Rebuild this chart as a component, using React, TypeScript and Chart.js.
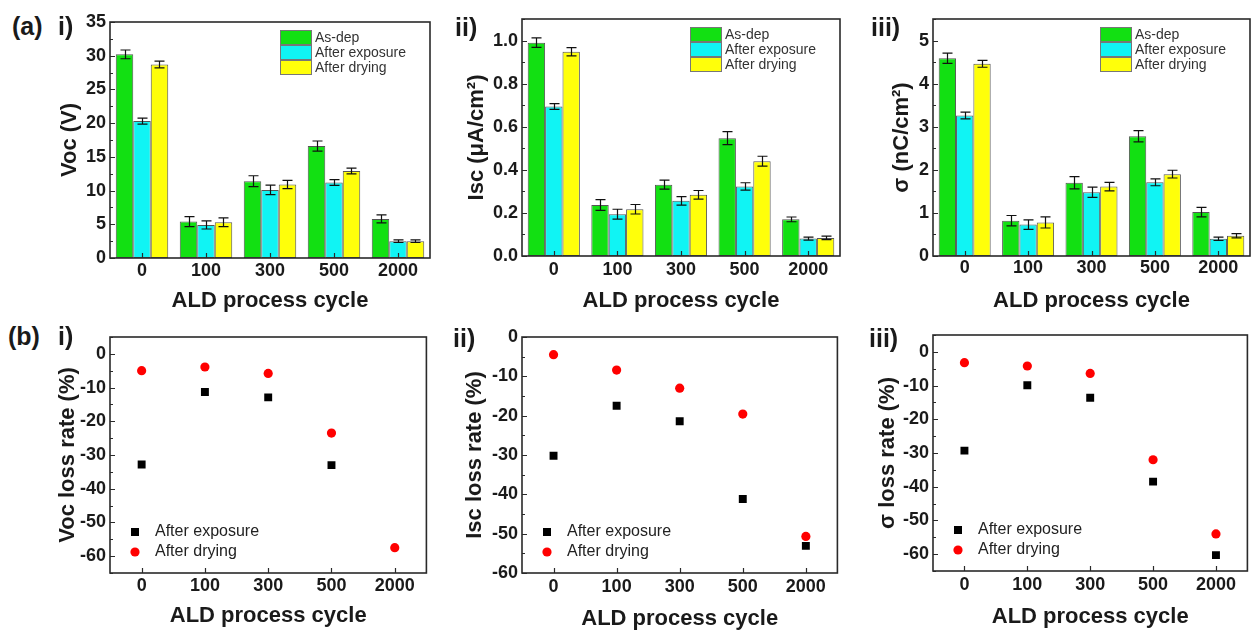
import React, { useEffect, useRef } from 'react';
import { Chart, registerables } from 'chart.js';

Chart.register(...registerables);

// ---------- data ----------
const categories = ['0', '100', '300', '500', '2000'];
const barSeriesLabels = ['As-dep', 'After exposure', 'After drying'];
const lossSeriesLabels = ['After exposure', 'After drying'];

// (a) i) Voc (V)
const vocAsDep = [30.2, 5.4, 11.4, 16.6, 5.8];
const vocExposure = [20.3, 4.9, 10.1, 11.2, 2.5];
const vocDrying = [28.7, 5.3, 10.9, 12.9, 2.5];
const vocAsDepErr = [0.65, 0.75, 0.8, 0.75, 0.6];
const vocExposureErr = [0.45, 0.6, 0.7, 0.42, 0.2];
const vocDryingErr = [0.5, 0.65, 0.6, 0.42, 0.2];

// (a) ii) Isc (uA/cm2)
const iscAsDep = [0.99, 0.237, 0.331, 0.547, 0.17];
const iscExposure = [0.694, 0.194, 0.256, 0.323, 0.081];
const iscDrying = [0.948, 0.217, 0.284, 0.44, 0.084];
const iscAsDepErr = [0.022, 0.025, 0.021, 0.03, 0.011];
const iscExposureErr = [0.013, 0.023, 0.02, 0.017, 0.007];
const iscDryingErr = [0.019, 0.022, 0.02, 0.023, 0.008];

// (a) iii) sigma (nC/cm2)
const sigAsDep = [4.59, 0.82, 1.7, 2.78, 1.02];
const sigExposure = [3.26, 0.73, 1.48, 1.71, 0.4];
const sigDrying = [4.46, 0.78, 1.61, 1.9, 0.47];
const sigAsDepErr = [0.12, 0.12, 0.14, 0.13, 0.11];
const sigExposureErr = [0.08, 0.11, 0.12, 0.08, 0.04];
const sigDryingErr = [0.08, 0.13, 0.1, 0.09, 0.05];

// (b) loss rates (%)  (the 2000-cycle exposure point of Voc is hidden under the red marker)
const vocLossExposure = [-32.8, -11.3, -12.9, -33.0, null];
const vocLossDrying = [-5.0, -3.9, -5.8, -23.5, -57.5];
const iscLossExposure = [-30.2, -17.5, -21.4, -41.2, -53.1];
const iscLossDrying = [-4.5, -8.4, -13.0, -19.6, -50.7];
const sigLossExposure = [-29.3, -9.9, -13.6, -38.5, -60.3];
const sigLossDrying = [-3.2, -4.2, -6.4, -32.0, -54.0];

// tick values
const vocTicks = [0, 5, 10, 15, 20, 25, 30, 35];
const iscTicks = [0, 0.2, 0.4, 0.6, 0.8, 1.0];
const sigTicks = [0, 1, 2, 3, 4, 5];
const lossTicksA = [-60, -50, -40, -30, -20, -10, 0];
const lossTicksB = [-60, -50, -40, -30, -20, -10, 0];

// ---------- style ----------
const FONT = "'Liberation Sans', Arial, Helvetica, sans-serif";
const TEXT = '#1a1a1a';
const GREEN = '#12e012';
const CYAN = '#10f4f4';
const YELLOW = '#ffff0a';

// ---------- plugins ----------
const framePlugin = {
  id: 'frame',
  afterDatasetsDraw(chart: any, _args: any, opts: any) {
    const { ctx, chartArea: a } = chart;
    const y = chart.scales.y;
    const x = chart.scales.x;
    ctx.save();
    ctx.strokeStyle = '#2a2a2a';
    ctx.lineWidth = 1.2;
    ctx.beginPath();
    for (const t of y.ticks) {
      const py = Math.round(y.getPixelForValue(t.value)) + 0.5;
      ctx.moveTo(a.left, py);
      ctx.lineTo(a.left + 5, py);
    }
    const step = opts.minorStep;
    if (step) {
      const majors = y.ticks.map((t: any) => t.value);
      for (let v = Math.ceil(y.min / step) * step; v <= y.max + 1e-9; v += step) {
        if (majors.some((m: number) => Math.abs(m - v) < 1e-6)) continue;
        const py = Math.round(y.getPixelForValue(v)) + 0.5;
        ctx.moveTo(a.left, py);
        ctx.lineTo(a.left + 3, py);
      }
    }
    for (let i = 0; i < x.ticks.length; i++) {
      const px = Math.round(x.getPixelForTick(i)) + 0.5;
      ctx.moveTo(px, a.bottom);
      ctx.lineTo(px, a.bottom - 5);
    }
    ctx.stroke();
    ctx.lineWidth = 1.6;
    ctx.strokeStyle = '#2a2a2a';
    ctx.strokeRect(a.left, a.top, a.right - a.left, a.bottom - a.top);
    ctx.restore();
  },
};

const errorBarPlugin = {
  id: 'errorBars',
  afterDatasetsDraw(chart: any) {
    const { ctx } = chart;
    const y = chart.scales.y;
    ctx.save();
    ctx.strokeStyle = '#111';
    ctx.lineWidth = 1.2;
    chart.data.datasets.forEach((ds: any, di: number) => {
      if (!ds.errors) return;
      const meta = chart.getDatasetMeta(di);
      meta.data.forEach((el: any, i: number) => {
        const v = ds.data[i];
        const e = ds.errors[i];
        const px = Math.round(el.x) + 0.5;
        const yt = y.getPixelForValue(v + e);
        const yb = y.getPixelForValue(v - e);
        ctx.beginPath();
        ctx.moveTo(px, yt);
        ctx.lineTo(px, yb);
        ctx.moveTo(px - 5, yt);
        ctx.lineTo(px + 5, yt);
        ctx.moveTo(px - 5, yb);
        ctx.lineTo(px + 5, yb);
        ctx.stroke();
      });
    });
    ctx.restore();
  },
};

const insideLegendPlugin = {
  id: 'insideLegend',
  afterDraw(chart: any, _args: any, opts: any) {
    const { ctx, chartArea: a } = chart;
    const dsets = chart.data.datasets;
    ctx.save();
    if (opts.kind === 'box') {
      ctx.font = `14px ${FONT}`;
      ctx.textBaseline = 'middle';
      ctx.textAlign = 'left';
      const x0 = a.right - 150;
      dsets.forEach((ds: any, i: number) => {
        const yTop = a.top + 8 + i * 15;
        ctx.fillStyle = ds.backgroundColor;
        ctx.fillRect(x0, yTop, 32, 15);
        ctx.strokeStyle = '#777';
        ctx.lineWidth = 1;
        ctx.strokeRect(x0 + 0.5, yTop + 0.5, 31, 14);
        ctx.fillStyle = '#333';
        ctx.fillText(ds.label, x0 + 35, yTop + 8);
      });
    } else {
      ctx.font = `16px ${FONT}`;
      ctx.textBaseline = 'middle';
      ctx.textAlign = 'left';
      const x0 = a.left + 25;
      dsets.forEach((ds: any, i: number) => {
        const yc = a.bottom - 41 + i * 20;
        ctx.fillStyle = ds.backgroundColor;
        if (ds.pointStyle === 'rect') {
          ctx.fillRect(x0 - 4, yc - 4, 8, 8);
        } else {
          ctx.beginPath();
          ctx.arc(x0, yc, 4.6, 0, Math.PI * 2);
          ctx.fill();
        }
        ctx.fillStyle = '#222';
        ctx.fillText(ds.label, x0 + 20, yc);
      });
    }
    ctx.restore();
  },
};

// ---------- panels ----------
type Area = { l: number; t: number; r: number; b: number };
type PanelSpec = {
  key: string;
  kind: 'bar' | 'scatter';
  area: Area;
  canvasTop: number;
  canvasH: number;
  yTitleX: number;
  xTickY: number;
  xTitleY: number;
  yMin: number;
  yMax: number;
  yTicks: number[];
  minorStep: number;
  decimals: number;
  yTitle: string;
  datasets: any[];
};

const barDs = (label: string, data: number[], errors: number[], color: string) => ({
  label,
  data,
  errors,
  backgroundColor: color,
  borderColor: '#555',
  borderWidth: 1,
  borderSkipped: false,
  categoryPercentage: 0.82,
  barPercentage: 1.0,
});

const exposureDs = (data: (number | null)[]) => ({
  label: lossSeriesLabels[0],
  data,
  showLine: false,
  pointStyle: 'rect',
  pointRadius: 5.6,
  backgroundColor: '#000',
  borderColor: '#000',
  borderWidth: 0,
  order: 1,
});
const dryingDs = (data: number[]) => ({
  label: lossSeriesLabels[1],
  data,
  showLine: false,
  pointStyle: 'circle',
  pointRadius: 4.6,
  backgroundColor: '#ff0000',
  borderColor: '#ff0000',
  borderWidth: 0,
  order: 0,
});

const panels: PanelSpec[] = [
  {
    key: 'a1', kind: 'bar', area: { l: 110, t: 22, r: 430, b: 258 }, canvasTop: 0, canvasH: 318,
    yTitleX: 70, xTickY: 271, xTitleY: 301, yMin: 0, yMax: 35, yTicks: vocTicks, minorStep: 2.5, decimals: 0,
    yTitle: 'Voc (V)',
    datasets: [
      barDs(barSeriesLabels[0], vocAsDep, vocAsDepErr, GREEN),
      barDs(barSeriesLabels[1], vocExposure, vocExposureErr, CYAN),
      barDs(barSeriesLabels[2], vocDrying, vocDryingErr, YELLOW),
    ],
  },
  {
    key: 'a2', kind: 'bar', area: { l: 522, t: 19, r: 840, b: 256 }, canvasTop: 0, canvasH: 318,
    yTitleX: 477, xTickY: 270, xTitleY: 301, yMin: 0, yMax: 1.1, yTicks: iscTicks, minorStep: 0.1, decimals: 1,
    yTitle: 'Isc (\u03BCA/cm\u00B2)',
    datasets: [
      barDs(barSeriesLabels[0], iscAsDep, iscAsDepErr, GREEN),
      barDs(barSeriesLabels[1], iscExposure, iscExposureErr, CYAN),
      barDs(barSeriesLabels[2], iscDrying, iscDryingErr, YELLOW),
    ],
  },
  {
    key: 'a3', kind: 'bar', area: { l: 933, t: 19, r: 1250, b: 256 }, canvasTop: 0, canvasH: 318,
    yTitleX: 902, xTickY: 268, xTitleY: 301, yMin: 0, yMax: 5.5, yTicks: sigTicks, minorStep: 0.5, decimals: 0,
    yTitle: '\u03C3 (nC/cm\u00B2)',
    datasets: [
      barDs(barSeriesLabels[0], sigAsDep, sigAsDepErr, GREEN),
      barDs(barSeriesLabels[1], sigExposure, sigExposureErr, CYAN),
      barDs(barSeriesLabels[2], sigDrying, sigDryingErr, YELLOW),
    ],
  },
  {
    key: 'b1', kind: 'scatter', area: { l: 110, t: 337, r: 430, b: 573 }, canvasTop: 315, canvasH: 316,
    yTitleX: 68, xTickY: 586, xTitleY: 616, yMin: -65, yMax: 5, yTicks: lossTicksA, minorStep: 5, decimals: 0,
    yTitle: 'Voc loss rate (%)',
    datasets: [exposureDs(vocLossExposure), dryingDs(vocLossDrying)],
  },
  {
    key: 'b2', kind: 'scatter', area: { l: 522, t: 337, r: 841, b: 573 }, canvasTop: 315, canvasH: 316,
    yTitleX: 475, xTickY: 587, xTitleY: 619, yMin: -60, yMax: 0, yTicks: lossTicksB, minorStep: 5, decimals: 0,
    yTitle: 'Isc loss rate (%)',
    datasets: [exposureDs(iscLossExposure), dryingDs(iscLossDrying)],
  },
  {
    key: 'b3', kind: 'scatter', area: { l: 933, t: 335, r: 1251, b: 571 }, canvasTop: 315, canvasH: 316,
    yTitleX: 888, xTickY: 585, xTitleY: 617, yMin: -65, yMax: 5, yTicks: lossTicksA, minorStep: 5, decimals: 0,
    yTitle: '\u03C3 loss rate (%)',
    datasets: [exposureDs(sigLossExposure), dryingDs(sigLossDrying)],
  },
];

const Y_AXIS_W = 65;

function canvasRect(p: PanelSpec) {
  const x = p.area.l - Y_AXIS_W;
  const w = Math.min(p.area.r + 2, 1253) - x;
  return { x, y: p.canvasTop, w, h: p.canvasH };
}

function makeConfig(p: PanelSpec): any {
  const c = canvasRect(p);
  const xAxisH = c.y + c.h - p.area.b;
  const tickFont = { family: FONT, size: 18, weight: 'bold' as const, lineHeight: 1.2 };
  const titleFont = { family: FONT, size: 22, weight: 'bold' as const, lineHeight: 1 };
  return {
    type: p.kind === 'bar' ? 'bar' : 'line',
    data: { labels: categories, datasets: p.datasets },
    options: {
      responsive: false,
      maintainAspectRatio: false,
      animation: false,
      devicePixelRatio: 1,
      events: [],
      spanGaps: false,
      layout: {
        padding: { left: 0, top: p.area.t - c.y, right: c.x + c.w - p.area.r, bottom: 0 },
      },
      plugins: {
        legend: { display: false },
        tooltip: { enabled: false },
        frame: { minorStep: p.minorStep },
        insideLegend: { kind: p.kind === 'bar' ? 'box' : 'marker' },
      },
      scales: {
        x: {
          type: 'category',
          offset: true,
          grid: { display: false, drawTicks: false },
          border: { display: false },
          ticks: { font: tickFont, color: TEXT, padding: p.xTickY - p.area.b - 10.8, autoSkip: false, maxRotation: 0 },
          title: {
            display: true,
            text: 'ALD process cycle',
            font: titleFont,
            color: TEXT,
            padding: { top: 0, bottom: c.y + c.h - p.xTitleY - 11 },
          },
          afterFit: (s: any) => { s.height = xAxisH; },
        },
        y: {
          type: 'linear',
          min: p.yMin,
          max: p.yMax,
          grid: { display: false, drawTicks: false },
          border: { display: false },
          afterBuildTicks: (s: any) => { s.ticks = p.yTicks.map((v) => ({ value: v })); },
          ticks: {
            font: tickFont,
            color: TEXT,
            padding: 4,
            autoSkip: false,
            callback: (v: any) => Number(v).toFixed(p.decimals),
          },
          title: {
            display: true,
            text: p.yTitle,
            font: titleFont,
            color: TEXT,
            padding: { top: p.yTitleX - c.x - 11, bottom: 0 },
          },
          afterFit: (s: any) => { s.width = Y_AXIS_W; },
        },
      },
    },
    plugins: [framePlugin, errorBarPlugin, insideLegendPlugin],
  };
}

function ChartPanel({ p }: { p: PanelSpec }) {
  const ref = useRef<HTMLCanvasElement>(null);
  const c = canvasRect(p);
  useEffect(() => {
    if (!ref.current) return;
    const chart = new Chart(ref.current, makeConfig(p));
    return () => chart.destroy();
  }, []);
  return (
    <canvas
      ref={ref}
      width={c.w}
      height={c.h}
      style={{ position: 'absolute', left: c.x, top: c.y, width: c.w, height: c.h }}
    />
  );
}

const panelLabels = [
  { text: '(a)', x: 12, y: 14 },
  { text: 'i)', x: 58, y: 14 },
  { text: 'ii)', x: 455, y: 15 },
  { text: 'iii)', x: 871, y: 15 },
  { text: '(b)', x: 8, y: 324 },
  { text: 'i)', x: 58, y: 324 },
  { text: 'ii)', x: 453, y: 326 },
  { text: 'iii)', x: 869, y: 326 },
];

export default function App() {
  return (
    <div
      style={{
        position: 'absolute',
        left: 0,
        top: 0,
        width: 1253,
        height: 631,
        background: '#ffffff',
        overflow: 'hidden',
      }}
    >
      {panels.map((p) => (
        <ChartPanel key={p.key} p={p} />
      ))}
      {panelLabels.map((l, i) => (
        <div
          key={i}
          style={{
            position: 'absolute',
            left: l.x,
            top: l.y,
            font: `bold 25px ${FONT}`,
            lineHeight: '25px',
            color: TEXT,
            whiteSpace: 'nowrap',
          }}
        >
          {l.text}
        </div>
      ))}
    </div>
  );
}
